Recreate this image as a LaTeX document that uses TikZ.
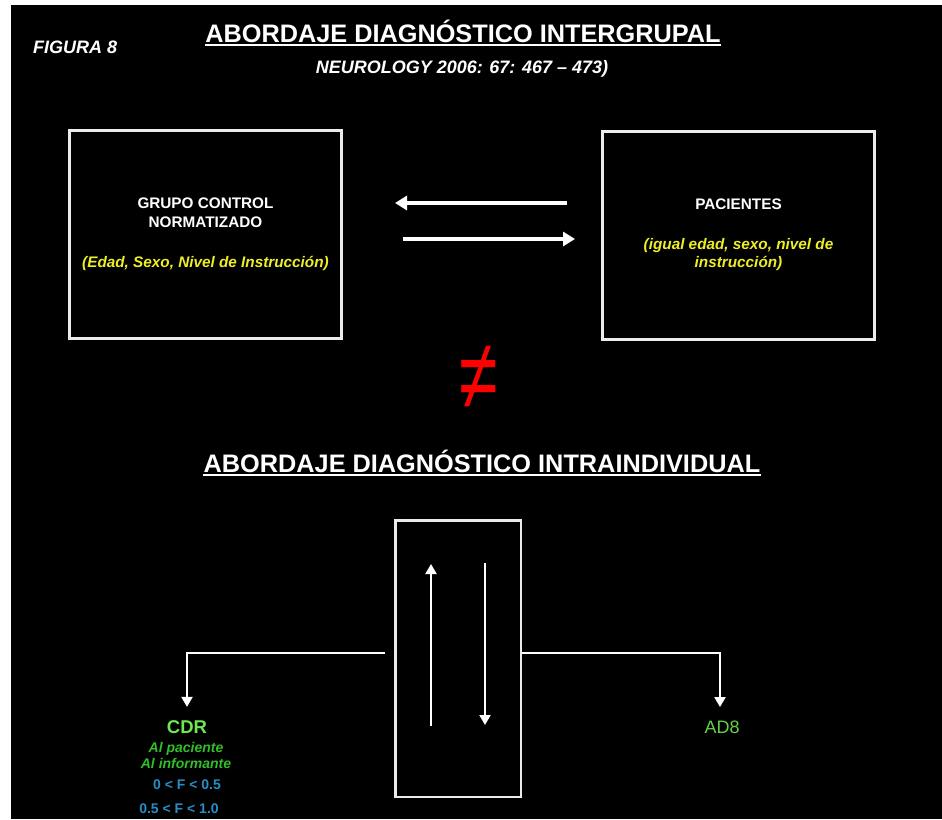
\documentclass[tikz,border=0pt]{standalone}
\usepackage{fontspec}
\setmainfont{Liberation Sans}
\usetikzlibrary{arrows.meta,positioning}
\definecolor{boxline}{RGB}{235,235,235}
\definecolor{yellowT}{RGB}{238,238,40}
\definecolor{greenA}{RGB}{110,232,80}
\definecolor{greenB}{RGB}{50,190,40}
\definecolor{greenC}{RGB}{100,210,70}
\definecolor{blueF}{RGB}{40,140,200}
\begin{document}
\begin{tikzpicture}[x=1pt,y=-1pt,
  title/.style={inner sep=0pt,text=white,font=\fontsize{25.3}{30}\selectfont\bfseries},
  uline/.style={draw=white,line width=2pt},
  grupo/.style={draw=boxline,line width=3pt,minimum width=272pt,minimum height=208pt,align=center,text=white,font=\fontsize{15.3}{19}\selectfont\bfseries},
  bigarrow/.style={draw=white,line width=4pt,-{Triangle[length=12pt,width=14pt]}},
  thinarrow/.style={draw=white,line width=2pt,-{Triangle[length=10pt,width=11pt]}},
  rangetxt/.style={text=blueF,font=\fontsize{14}{16}\selectfont\bfseries}]
\useasboundingbox (0,0) rectangle (942,819);
\fill[white] (0,0) rectangle (942,819);
\fill[black] (11,5) rectangle (942,819);
\node [anchor=base west,inner sep=0pt,text=white,font=\fontsize{18}{20}\selectfont\bfseries\itshape] (fig) at (33,53) {FIGURA 8};
\node [title,anchor=base] (inter) at (463,42) {ABORDAJE DIAGNÓSTICO INTERGRUPAL};
\draw [uline] ([yshift=-3pt]inter.base west) -- ([yshift=-3pt]inter.base east);
\node [anchor=base,inner sep=0pt,text=white,font=\fontsize{18}{20}\selectfont\bfseries\itshape] (ref) at (462,73) {NEUROLOGY 2006: 67: 467 – 473)};
\node [grupo] (control) at (205.5,234.5) {GRUPO CONTROL\\NORMATIZADO\\[21pt]\textcolor{yellowT}{\itshape (Edad, Sexo, Nivel de Instrucción)}};
\node [grupo] (pacientes) at (738.5,235) {PACIENTES\\[21pt]\textcolor{yellowT}{\itshape (igual edad, sexo, nivel de}\\[-1pt]\textcolor{yellowT}{\itshape instrucción)}};
\coordinate (pa) at (567,203);
\coordinate (pb) at (395,203);
\coordinate (ca) at (403,239);
\coordinate (cb) at (575,239);
\draw [bigarrow] (pa) -- (pb);
\draw [bigarrow] (ca) -- (cb);
\node [text=red,font=\fontsize{100}{100}\selectfont] (neq) at (479,378) {\scalebox{0.7}[1]{≠}};
\node [title,anchor=base] (intra) at (482,472) {ABORDAJE DIAGNÓSTICO INTRAINDIVIDUAL};
\draw [uline] ([yshift=-3pt]intra.base west) -- ([yshift=-3pt]intra.base east);
\node [draw=boxline,line width=2.5pt,minimum width=125.5pt,minimum height=276.5pt] (indiv) at (458,658.5) {};
\coordinate (ua) at (431,726);
\coordinate (ub) at (431,564);
\coordinate (da) at (485,563);
\coordinate (db) at (485,725);
\draw [thinarrow] (ua) -- (ub);
\draw [thinarrow] (da) -- (db);
\node [text=greenA,font=\fontsize{18.5}{20}\selectfont\bfseries] (cdr) at (187,727) {CDR};
\node [text=greenB,align=center,font=\fontsize{14}{16}\selectfont\bfseries\itshape] (modo) at (186,755) {Al paciente\\Al informante};
\node [rangetxt] (fa) at (187,785) {0 < F < 0.5};
\node [rangetxt] (fb) at (179,809) {0.5 < F < 1.0};
\node [text=greenC,font=\fontsize{18}{20}\selectfont] (ad8) at (722,727) {AD8};
\coordinate (il) at (385,653);
\draw [thinarrow] (il) -| ([yshift=10pt]cdr.north);
\draw [thinarrow] (indiv.east |- il) -| ([yshift=10pt,xshift=-2pt]ad8.north);
\end{tikzpicture}
\end{document}
